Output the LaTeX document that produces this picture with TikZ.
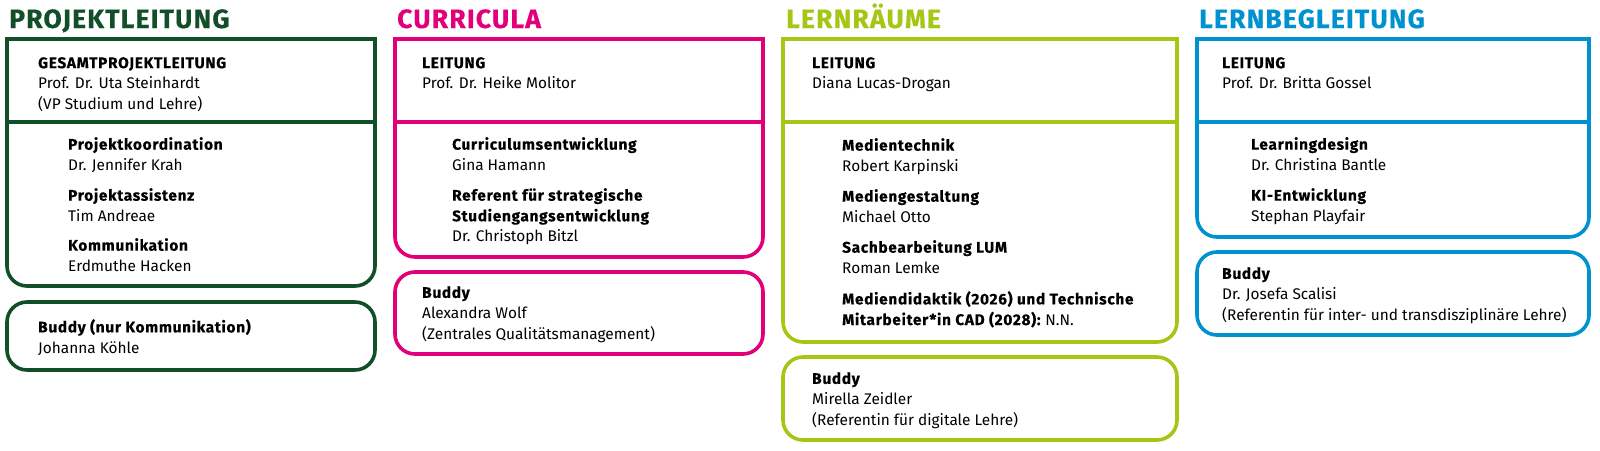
\documentclass[tikz,border=0pt]{standalone}
\usepackage{fontspec}
\setmainfont{Fira Sans}[BoldFeatures={LetterSpace=4.5, FakeBold=0.4}]
\newcommand{\headfont}{\bfseries\addfontfeatures{LetterSpace=4, FakeBold=0.7}}
\usepackage{xcolor}
\usepackage{tikz}
\usetikzlibrary{positioning}
\definecolor{plgreen}{RGB}{18,78,40}
\definecolor{curmagenta}{RGB}{226,0,122}
\definecolor{lrlime}{RGB}{164,199,22}
\definecolor{lbblue}{RGB}{0,146,207}
\tikzset{
  frame/.style={line width=3.6pt},
  topline/.style={line width=3.6pt, line cap=rect},
  divider/.style={line width=3.2pt},
  bodyframe/.style={line width=3.6pt, rounded corners=20pt},
  buddyframe/.style={line width=3.6pt, rounded corners=20pt},
  head/.style={anchor=base west, inner sep=0pt, font=\fontsize{26.5}{26.5}\selectfont\headfont},
  txt/.style={anchor=north west, inner sep=0pt, align=left, font=\fontsize{15.4}{20.6}\selectfont}
}

\begin{document}
\begin{tikzpicture}[x=1pt, y=-1pt]
  \useasboundingbox (0,0) rectangle (1600,450);
  % Projektleitung
  \node[head, text=plgreen] (pl-title) at (9,28) {PROJEKTLEITUNG};
  \draw[topline, plgreen] (7,39) -- (375,39);
  \draw[bodyframe, plgreen] (7,39) -- (7,286) -- (375,286) -- (375,39);
  \draw[divider, plgreen] (7,122) -- (375,122);
  \node[txt] (pl-lead) at (38,57) {\textbf{GESAMTPROJEKTLEITUNG}\\Prof. Dr. Uta Steinhardt\\(VP Studium und Lehre)};
  \node[txt] (pl-koord) at (68,137) {\textbf{Projektkoordination}\\Dr. Jennifer Krah};
  \node[txt] (pl-assist) at (68,188) {\textbf{Projektassistenz}\\Tim Andreae};
  \node[txt] (pl-komm) at (68,238) {\textbf{Kommunikation}\\Erdmuthe Hacken};
  \draw[buddyframe, plgreen] (7,302) rectangle (375,370);
  \node[txt] (pl-buddy) at (38,319) {\textbf{Buddy (nur Kommunikation)}\\Johanna Köhle};
  % Curricula
  \node[head, text=curmagenta] (cu-title) at (397,28) {CURRICULA};
  \draw[topline, curmagenta] (395,39) -- (763,39);
  \draw[bodyframe, curmagenta] (395,39) -- (395,257) -- (763,257) -- (763,39);
  \draw[divider, curmagenta] (395,122) -- (763,122);
  \node[txt] (cu-lead) at (422,57) {\textbf{LEITUNG}\\Prof. Dr. Heike Molitor};
  \node[txt] (cu-entw) at (452,137) {\textbf{Curriculumsentwicklung}\\Gina Hamann};
  \node[txt] (cu-ref) at (452,188) {\textbf{Referent für strategische}\\\textbf{Studiengangsentwicklung}\\Dr. Christoph Bitzl};
  \draw[buddyframe, curmagenta] (395,272) rectangle (763,354);
  \node[txt] (cu-buddy) at (422,286) {\textbf{Buddy}\\Alexandra Wolf\\(Zentrales Qualitätsmanagement)};
  % Lernraeume
  \node[head, text=lrlime] (lr-title) at (786,28) {LERNRÄUME};
  \draw[topline, lrlime] (783,39) -- (1177,39);
  \draw[bodyframe, lrlime] (783,39) -- (783,342) -- (1177,342) -- (1177,39);
  \draw[divider, lrlime] (783,122) -- (1177,122);
  \node[txt] (lr-lead) at (812,57) {\textbf{LEITUNG}\\Diana Lucas-Drogan};
  \node[txt] (lr-tech) at (842,138) {\textbf{Medientechnik}\\Robert Karpinski};
  \node[txt] (lr-gest) at (842,189) {\textbf{Mediengestaltung}\\Michael Otto};
  \node[txt] (lr-lum) at (842,240) {\textbf{Sachbearbeitung LUM}\\Roman Lemke};
  \node[txt] (lr-cad) at (842,291) {\textbf{Mediendidaktik (2026) und Technische}\\\textbf{Mitarbeiter*in CAD (2028):}~N.N.};
  \draw[buddyframe, lrlime] (783,357) rectangle (1177,440);
  \node[txt] (lr-buddy) at (812,372) {\textbf{Buddy}\\Mirella Zeidler\\(Referentin für digitale Lehre)};
  % Lernbegleitung
  \node[head, text=lbblue] (lb-title) at (1199,28) {LERNBEGLEITUNG};
  \draw[topline, lbblue] (1197,39) -- (1589,39);
  \draw[bodyframe, lbblue] (1197,39) -- (1197,237) -- (1589,237) -- (1589,39);
  \draw[divider, lbblue] (1197,122) -- (1589,122);
  \node[txt] (lb-lead) at (1222,57) {\textbf{LEITUNG}\\Prof. Dr. Britta Gossel};
  \node[txt] (lb-design) at (1251,137) {\textbf{Learningdesign}\\Dr. Christina Bantle};
  \node[txt] (lb-ki) at (1251,188) {\textbf{KI-Entwicklung}\\Stephan Playfair};
  \draw[buddyframe, lbblue] (1197,252) rectangle (1589,335);
  \node[txt] (lb-buddy) at (1222,267) {\textbf{Buddy}\\Dr. Josefa Scalisi\\(Referentin für inter- und transdisziplinäre Lehre)};
\end{tikzpicture}
\end{document}
